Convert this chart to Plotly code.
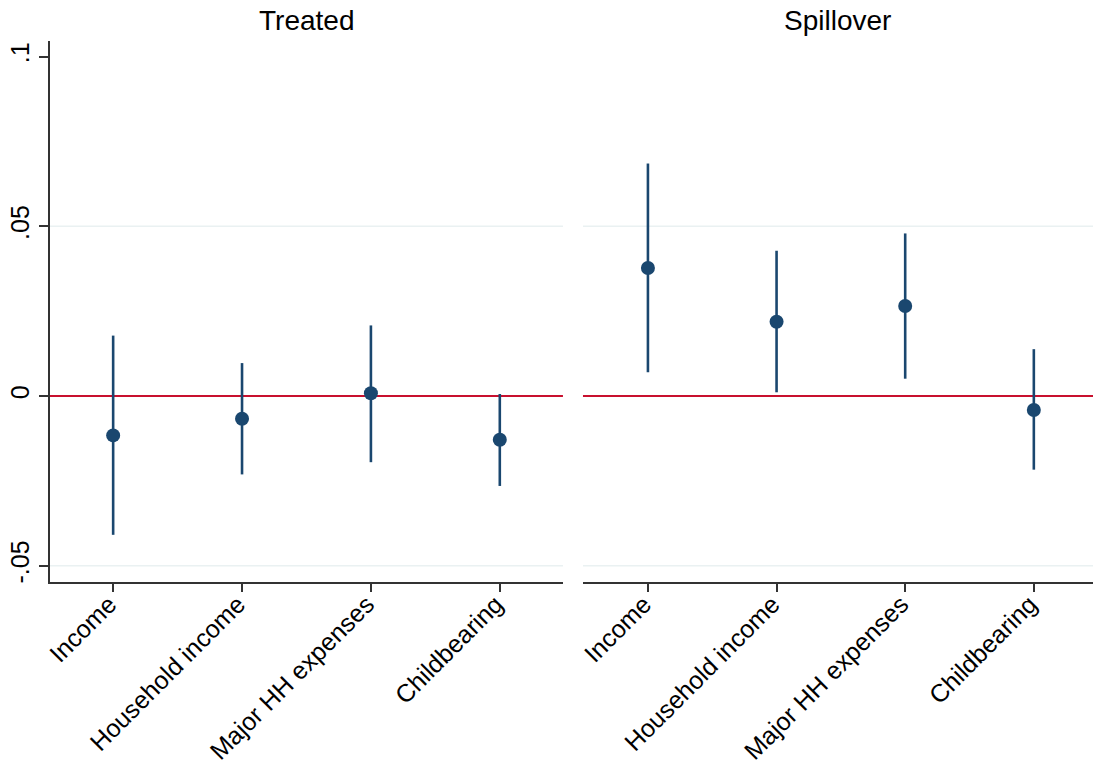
import plotly.graph_objects as go

categories = ["Income", "Household income", "Major HH expenses", "Childbearing"]

treated_est = [-0.0116, -0.0067, 0.0008, -0.0129]
treated_lo = [-0.0409, -0.0231, -0.0195, -0.0265]
treated_hi = [0.0178, 0.0097, 0.0208, 0.0006]

spill_est = [0.0377, 0.0219, 0.0265, -0.0041]
spill_lo = [0.0070, 0.0011, 0.0051, -0.0217]
spill_hi = [0.0685, 0.0428, 0.0479, 0.0138]

panel_titles = ["Treated", "Spillover"]
ytick_vals = [-0.05, 0, 0.05, 0.1]
ytick_text = ["-.05", "0", ".05", ".1"]
grid_vals = [-0.05, 0.05]
ref_line = 0

NAVY = "#1a476f"
RED = "#c8102e"
AXIS = "#333333"
GRID = "#eaf1f2"
FONT = "Liberation Sans, Arial, sans-serif"

fig = go.Figure()

def add_panel(est, lo, hi, xa, ya):
    fig.add_trace(go.Scatter(
        x=categories, y=est, mode="markers",
        marker=dict(color=NAVY, size=14, line=dict(width=0)),
        error_y=dict(type="data", symmetric=False,
                     array=[h - e for h, e in zip(hi, est)],
                     arrayminus=[e - l for e, l in zip(est, lo)],
                     color=NAVY, thickness=2.6, width=0),
        xaxis=xa, yaxis=ya, showlegend=False, hoverinfo="skip"))

add_panel(treated_est, treated_lo, treated_hi, "x", "y")
add_panel(spill_est, spill_lo, spill_hi, "x2", "y2")

yr = [-0.0548, 0.1046]
common_x = dict(type="category", showgrid=False, zeroline=False, automargin=False,
                showline=True, linecolor=AXIS, linewidth=1.6,
                ticks="outside", ticklen=8, tickwidth=1.6, tickcolor=AXIS,
                tickangle=-45, ticklabelstandoff=-12, ticklabelshift=-4,
                tickfont=dict(family=FONT, size=25, color="#000"))

fig.update_layout(
    width=1093, height=765,
    margin=dict(l=50, r=0, t=41, b=183),
    plot_bgcolor="white", paper_bgcolor="white",
    font=dict(family=FONT, color="#000"),
    xaxis=dict(domain=[0, 0.4918], range=[-0.49, 3.49], anchor="y", **common_x),
    xaxis2=dict(domain=[0.511, 1], range=[-0.505, 3.46], anchor="y2", **common_x),
    yaxis=dict(range=yr, tickvals=ytick_vals, ticktext=ytick_text, automargin=False,
               showgrid=False, zeroline=False, showline=True,
               linecolor=AXIS, linewidth=1.6, ticks="outside", ticklen=9,
               tickwidth=1.6, tickcolor=AXIS, tickangle=-90,
               tickfont=dict(family=FONT, size=25, color="#000"), anchor="x"),
    yaxis2=dict(range=yr, matches="y", showgrid=False, zeroline=False, automargin=False,
                showline=False, showticklabels=False, ticks="", anchor="x2"),
)

shapes = []
for xref, yref in (("x domain", "y"), ("x2 domain", "y2")):
    for g in grid_vals:
        shapes.append(dict(type="line", xref=xref, yref=yref, x0=0, x1=1, y0=g, y1=g,
                           line=dict(color=GRID, width=1.6), layer="below"))
    shapes.append(dict(type="line", xref=xref, yref=yref, x0=0, x1=1,
                       y0=ref_line, y1=ref_line,
                       line=dict(color=RED, width=2.2), layer="below"))
fig.update_layout(shapes=shapes)

centers = [0.4918 / 2, (0.511 + 1) / 2]
for t, c in zip(panel_titles, centers):
    fig.add_annotation(text=t, x=c, y=1.037, xref="paper", yref="paper",
                       xanchor="center", yanchor="middle", showarrow=False,
                       font=dict(family=FONT, size=28, color="#000"))

fig.write_html("out.html", config={"displayModeBar": False},
               post_script="document.body.style.margin='0';document.body.style.overflow='hidden';")
